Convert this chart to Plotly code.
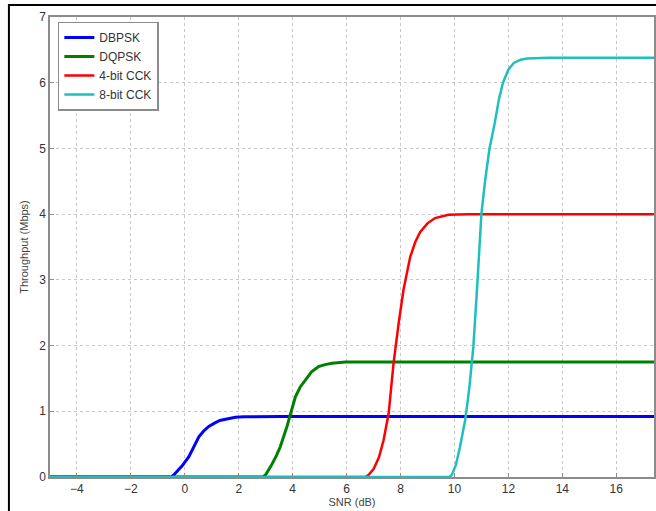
import plotly.graph_objects as go

# SNR (dB) / throughput (Mbps) samples
dbpsk_x = [-5, -0.5, -0.41, -0.1, 0.15, 0.35, 0.52, 0.7, 0.89, 1.1, 1.3, 1.51, 1.7, 1.88, 2.2, 2.6, 3.5, 20]
dbpsk_y = [0, 0, 0.03, 0.17, 0.31, 0.47, 0.61, 0.7, 0.77, 0.82, 0.86, 0.88, 0.9, 0.91, 0.915, 0.92, 0.92, 0.92]

dqpsk_x = [-5, 2.9, 2.99, 3.2, 3.4, 3.54, 3.79, 3.95, 4.1, 4.28, 4.47, 4.7, 4.96, 5.2, 5.46, 5.95, 6.5, 20]
dqpsk_y = [0, 0, 0.03, 0.17, 0.33, 0.46, 0.77, 1.0, 1.22, 1.37, 1.48, 1.6, 1.68, 1.71, 1.73, 1.75, 1.75, 1.75]

cck4_x = [-5, 6.7, 6.81, 7.0, 7.2, 7.37, 7.56, 7.74, 7.93, 8.11, 8.36, 8.55, 8.73, 9.0, 9.28, 9.78, 10.5, 20]
cck4_y = [0, 0, 0.03, 0.12, 0.3, 0.56, 0.97, 1.73, 2.34, 2.85, 3.35, 3.58, 3.73, 3.86, 3.94, 3.99, 4.0, 4.0]

cck8_x = [-5, 9.8, 9.9, 10.05, 10.2, 10.4, 10.55, 10.7, 10.85, 11.0, 11.14, 11.3, 11.5, 11.65, 11.8, 12.0, 12.2, 12.45, 12.7, 13.5, 20]
cck8_y = [0, 0, 0.03, 0.18, 0.45, 0.87, 1.35, 1.98, 2.95, 4.01, 4.52, 5.0, 5.4, 5.75, 6.0, 6.2, 6.3, 6.35, 6.37, 6.38, 6.38]

names = ["DBPSK", "DQPSK", "4-bit CCK", "8-bit CCK"]
colors = ["#0000ff", "#008000", "#ff0000", "#1fbfbf"]
widths = [3, 3, 2.5, 2.5]

x_ticks = [-4, -2, 0, 2, 4, 6, 8, 10, 12, 14, 16, 18]
y_ticks = [0, 1, 2, 3, 4, 5, 6, 7]

fig = go.Figure()
for nm, xs, ys, c, w in zip(names, [dbpsk_x, dqpsk_x, cck4_x, cck8_x],
                            [dbpsk_y, dqpsk_y, cck4_y, cck8_y], colors, widths):
    fig.add_trace(go.Scatter(x=xs, y=ys, mode="lines", name=nm,
                             line=dict(color=c, width=w)))

font_family = "Liberation Sans, Arial"
axis_common = dict(
    showline=True, linecolor="#8c8c8c", linewidth=1.5, mirror=True,
    ticks="inside", ticklen=4, tickcolor="#8c8c8c",
    showgrid=True, gridcolor="#c8c8c8", griddash="dot", gridwidth=1,
    zeroline=False, tickfont=dict(family=font_family, size=12, color="#333333"),
)

fig.update_layout(
    width=656, height=511,
    margin=dict(l=50, r=0, t=17, b=34),
    paper_bgcolor="white", plot_bgcolor="white",
    xaxis=dict(range=[-5, 17.4], tickvals=x_ticks,
               title=dict(text="SNR (dB)", standoff=1,
                          font=dict(family=font_family, size=11, color="#444444")),
               **axis_common),
    yaxis=dict(range=[0, 7], tickvals=y_ticks,
               title=dict(text="Throughput (Mbps)", standoff=8,
                          font=dict(family=font_family, size=11, color="#444444")),
               **axis_common),
    legend=dict(x=0.013, y=0.99, xanchor="left", yanchor="top",
                bgcolor="white", bordercolor="#8c8c8c", borderwidth=1.5,
                font=dict(family=font_family, size=12, color="#333333"),
                tracegroupgap=0, itemwidth=30),
    showlegend=True,
    shapes=[
        dict(type="line", xref="paper", yref="paper", x0=-0.068, x1=1.05, y0=1.026, y1=1.026,
             line=dict(color="black", width=2)),
        dict(type="line", xref="paper", yref="paper", x0=-0.068, x1=-0.068, y0=1.028, y1=-0.08,
             line=dict(color="black", width=2)),
    ],
)

fig.write_html("out.html")
